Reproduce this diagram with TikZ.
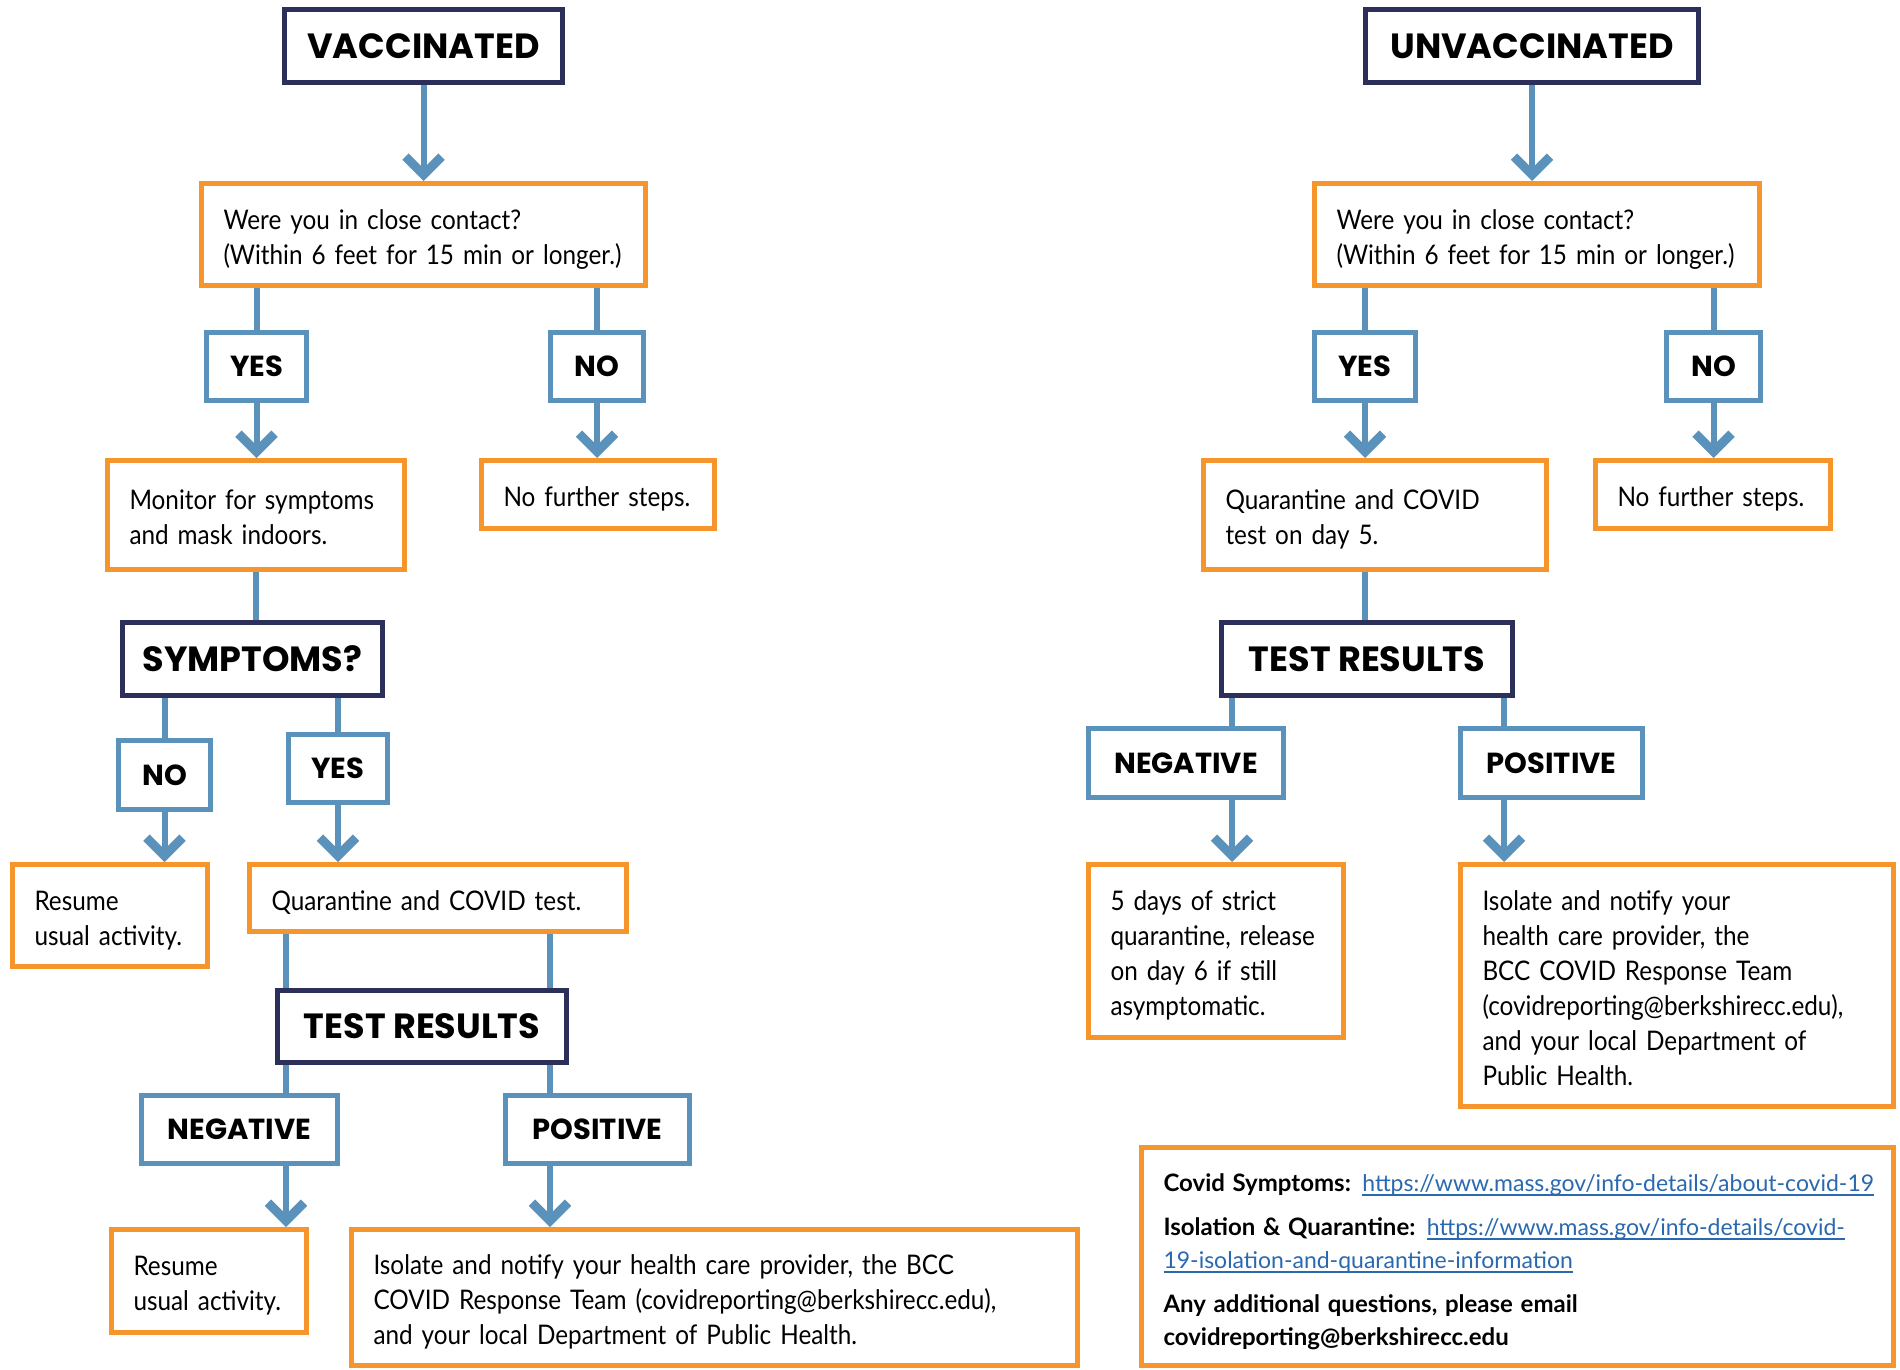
\documentclass[tikz,border=0pt]{standalone}
\usepackage{fontspec}
\setmainfont{Lato}
\newfontfamily\bodyfont{Lato}[FakeStretch=0.9]
\newfontfamily\headfont{Poppins}
\usetikzlibrary{arrows.meta}
\definecolor{navyline}{HTML}{2D2F5B}
\definecolor{stepblue}{HTML}{5A92BC}
\definecolor{actorange}{HTML}{F7952D}
\definecolor{linkblue}{HTML}{2A69B0}
\newsavebox{\linkbox}
\newcommand{\weblink}[1]{\textcolor{linkblue}{\sbox{\linkbox}{#1}\rlap{\rule[-4pt]{\wd\linkbox}{1.3pt}}\usebox{\linkbox}}}
\newcommand{\infohead}[1]{{\fontsize{24}{33}\selectfont\bfseries #1}}
\newcommand{\bodytext}{\bodyfont\fontsize{27}{35}\selectfont\hyphenpenalty=10000\relax}

\begin{document}
\begin{tikzpicture}[
  x=1pt, y=-1pt,
  group/.style={rectangle, draw=navyline, line width=5pt, fill=white, align=center, font=\headfont\bfseries\fontsize{35}{40}\selectfont},
  answer/.style={rectangle, draw=stepblue, line width=5pt, fill=white, align=center, font=\headfont\bfseries\fontsize{29}{34}\selectfont},
  action/.style={rectangle, draw=actorange, line width=5pt, fill=white, align=left, inner xsep=22pt, font=\bodytext,
    execute at begin node={\rule{0pt}{31pt}}, execute at end node={\rule[-7pt]{0pt}{7pt}}},
  wire/.style={line width=6pt, draw=stepblue},
  flow/.style={wire, -{Straight Barb[length=18pt, width=36pt, line width=9pt, sharp]}}
]
  \path[use as bounding box, fill=white] (0,0) rectangle (1900,1370);

  % vaccinated
  \node[group, minimum width=278, minimum height=73] (vacc) at (423.5,46) {VACCINATED};
  \node[action, text width=400, minimum height=102] (q1) at (423.5,234.5) {Were you in close contact?\\(Within 6 feet for 15 min or longer.)};
  \node[answer, minimum width=100, minimum height=68] (yes1) at (256.5,366.5) {YES};
  \node[answer, minimum width=93, minimum height=68] (no1) at (597,366.5) {NO};
  \node[action, text width=253, minimum height=109] (mon) at (256,515) {Monitor for symptoms\\and mask indoors.};
  \node[action, text width=189, minimum height=68] (nfs1) at (598,494.5) {No further steps.};
  \node[group, minimum width=260, minimum height=73] (symp) at (252.5,659) {SYMPTOMS?};
  \node[answer, minimum width=92, minimum height=69] (no2) at (164.5,775) {NO};
  \node[answer, minimum width=99, minimum height=68] (yes2) at (338,768.5) {YES};
  \node[action, text width=151, minimum height=102] (res1) at (110,915.5) {Resume\\usual activity.};
  \node[action, text width=333, minimum height=67] (qtest) at (438,898) {Quarantine and COVID test.};
  \node[group, minimum width=289, minimum height=72] (tr1) at (422,1026.5) {TEST RESULTS};
  \node[answer, minimum width=196, minimum height=68] (neg1) at (239.5,1129.5) {NEGATIVE};
  \node[answer, minimum width=184, minimum height=68] (pos1) at (597.5,1129.5) {POSITIVE};
  \node[action, text width=151, minimum height=103] (res2) at (209,1281) {Resume\\usual activity.};
  \node[action, text width=682, minimum height=136] (iso1) at (714.5,1297.5) {Isolate and notify your health care provider, the BCC\\COVID Response Team (covidreporting@berkshirecc.edu),\\and your local Department of Public Health.};

  % unvaccinated
  \node[group, minimum width=333, minimum height=73] (unv) at (1532,46) {UNVACCINATED};
  \node[action, text width=401, minimum height=102] (q2) at (1537,234.5) {Were you in close contact?\\(Within 6 feet for 15 min or longer.)};
  \node[answer, minimum width=101, minimum height=68] (yes3) at (1365,366.5) {YES};
  \node[answer, minimum width=94, minimum height=68] (no3) at (1713.5,366.5) {NO};
  \node[action, text width=299, minimum height=109] (q5) at (1375,515) {Quarantine and COVID\\test on day 5.};
  \node[action, text width=191, minimum height=68] (nfs2) at (1713,494.5) {No further steps.};
  \node[group, minimum width=291, minimum height=73] (tr2) at (1367,659) {TEST RESULTS};
  \node[answer, minimum width=195, minimum height=69] (neg2) at (1186,763) {NEGATIVE};
  \node[answer, minimum width=182, minimum height=69] (pos2) at (1551.5,763) {POSITIVE};
  \node[action, text width=211, minimum height=173] (d5) at (1216,951) {5 days of strict\\quarantine, release\\on day 6 if still\\asymptomatic.};
  \node[action, text width=389, minimum height=242] (iso2) at (1677,985.5) {Isolate and notify your\\health care provider, the\\BCC COVID Response Team\\(covidreporting@berkshirecc.edu),\\and your local Department of\\Public Health.};

  % info
  \node[action, text width=708, minimum height=218, font=\normalfont\fontsize{23}{33}\selectfont] (info) at (1517.5,1256.5) {\infohead{Covid Symptoms:} \weblink{https://www.mass.gov/info-details/about-covid-19}\\[11pt]
    \infohead{Isolation \& Quarantine:} \weblink{https://www.mass.gov/info-details/covid-}\\
    \weblink{19-isolation-and-quarantine-information}\\[11pt]
    \infohead{Any additional questions, please email}\\
    \infohead{covidreporting@berkshirecc.edu}};

  \coordinate (colA) at (286,0);
  \coordinate (colB) at (550,0);
  \coordinate (colC) at (1232,0);
  \coordinate (colD) at (1504,0);

  \draw[flow] (vacc.south) -- (q1.north);
  \draw[wire] (q1.south -| yes1.north) -- (yes1.north);
  \draw[wire] (q1.south -| no1.north) -- (no1.north);
  \draw[flow] (yes1.south) -- (yes1.south |- mon.north);
  \draw[flow] (no1.south) -- (no1.south |- nfs1.north);
  \draw[wire] (mon.south) -- (mon.south |- symp.north);
  \draw[wire] (symp.south -| no2.north) -- (no2.north);
  \draw[wire] (symp.south -| yes2.north) -- (yes2.north);
  \draw[flow] (no2.south) -- (no2.south |- res1.north);
  \draw[flow] (yes2.south) -- (yes2.south |- qtest.north);
  \draw[wire] (qtest.south -| colA) -- (tr1.north -| colA);
  \draw[wire] (qtest.south -| colB) -- (tr1.north -| colB);
  \draw[wire] (tr1.south -| colA) -- (neg1.north -| colA);
  \draw[wire] (tr1.south -| colB) -- (pos1.north -| colB);
  \draw[flow] (neg1.south -| colA) -- (res2.north -| colA);
  \draw[flow] (pos1.south -| colB) -- (iso1.north -| colB);

  \draw[flow] (unv.south) -- (unv.south |- q2.north);
  \draw[wire] (q2.south -| yes3.north) -- (yes3.north);
  \draw[wire] (q2.south -| no3.north) -- (no3.north);
  \draw[flow] (yes3.south) -- (yes3.south |- q5.north);
  \draw[flow] (no3.south) -- (no3.south |- nfs2.north);
  \draw[wire] (q5.south -| yes3.south) -- (tr2.north -| yes3.south);
  \draw[wire] (tr2.south -| colC) -- (neg2.north -| colC);
  \draw[wire] (tr2.south -| colD) -- (pos2.north -| colD);
  \draw[flow] (neg2.south -| colC) -- (d5.north -| colC);
  \draw[flow] (pos2.south -| colD) -- (iso2.north -| colD);
\end{tikzpicture}
\end{document}
